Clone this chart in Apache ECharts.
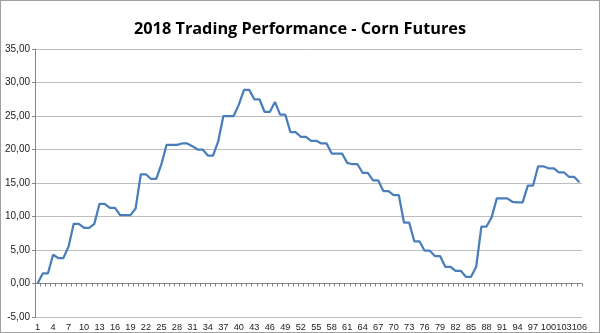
<!DOCTYPE html>
<html>
<head>
<meta charset="utf-8">
<script src="https://cdn.jsdelivr.net/npm/echarts@6/dist/echarts.min.js"></script>
<style>
  html, body { margin: 0; padding: 0; background: #fff; }
  #chart { width: 600px; height: 333px; box-sizing: border-box; border: 1px solid #a0a0a0; }
</style>
</head>
<body>
<div id="chart"></div>
<script>
const titleText = "2018 Trading Performance - Corn Futures";
const categories = [];
for (let i = 1; i <= 106; i++) categories.push(String(i));
const values = [
  0, 1.5, 1.5, 4.3, 3.8, 3.8, 5.5, 8.9, 8.9, 8.3,
  8.3, 8.9, 11.9, 11.9, 11.3, 11.3, 10.2, 10.2, 10.2, 11.2,
  16.3, 16.3, 15.6, 15.6, 17.8, 20.7, 20.7, 20.7, 20.9, 20.9,
  20.5, 20.0, 20.0, 19.1, 19.1, 21.2, 25.0, 25.0, 25.0, 26.7,
  28.9, 28.9, 27.5, 27.5, 25.6, 25.6, 27.1, 25.2, 25.2, 22.6,
  22.6, 21.9, 21.9, 21.3, 21.3, 20.9, 20.9, 19.4, 19.4, 19.4,
  18.0, 17.8, 17.8, 16.5, 16.5, 15.4, 15.4, 13.8, 13.8, 13.2,
  13.2, 9.1, 9.1, 6.3, 6.3, 4.9, 4.9, 4.1, 4.1, 2.5,
  2.5, 1.9, 1.9, 1.0, 1.0, 2.5, 8.5, 8.5, 9.9, 12.7,
  12.7, 12.7, 12.2, 12.1, 12.1, 14.6, 14.6, 17.5, 17.5, 17.2,
  17.2, 16.6, 16.6, 15.9, 15.9, 15.1
];
const yMin = -5, yMax = 35, yStep = 5;

const chart = echarts.init(document.getElementById('chart'), null, { renderer: 'canvas' });
chart.setOption({
  animation: false,
  backgroundColor: '#ffffff',
  title: {
    text: titleText,
    left: 'center', top: 15,
    textStyle: { fontFamily: 'Open Sans', fontWeight: 'bold', fontSize: 16.3, color: '#000' }
  },
  grid: { left: 34, right: 17, top: 48, bottom: 14, containLabel: false },
  xAxis: {
    type: 'category',
    data: categories,
    boundaryGap: true,
    axisLine: { onZero: true, lineStyle: { color: '#868686', width: 1 } },
    axisTick: { show: true, interval: 0, length: 3, lineStyle: { color: '#868686' } },
    axisLabel: {
      interval: 2, showMinLabel: true, showMaxLabel: true, hideOverlap: false,
      fontFamily: 'Liberation Sans', fontSize: 9.2, color: '#222', margin: 6
    },
    splitLine: { show: false }
  },
  yAxis: {
    type: 'value',
    min: yMin, max: yMax, interval: yStep,
    axisLine: { show: true, lineStyle: { color: '#868686' } },
    axisTick: { show: true, length: 3, lineStyle: { color: '#868686' } },
    axisLabel: {
      fontFamily: 'Liberation Sans', fontSize: 10, color: '#222', margin: 5,
      formatter: v => v.toFixed(2).replace('.', ',')
    },
    splitLine: { show: true, lineStyle: { color: '#bdbdbd', width: 1 } }
  },
  series: [{
    type: 'line',
    data: values,
    showSymbol: false,
    symbol: 'none',
    lineStyle: { color: '#4a7ebb', width: 2.25 },
    itemStyle: { color: '#4a7ebb' }
  }]
});
</script>
</body>
</html>
